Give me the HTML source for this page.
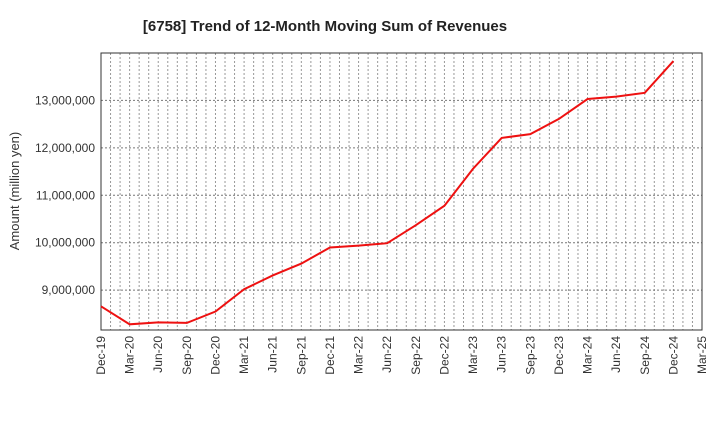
<!DOCTYPE html>
<html><head><meta charset="utf-8"><style>
body{margin:0;background:#fff;font-family:"Liberation Sans",sans-serif}
svg text{font-family:"Liberation Sans",sans-serif;fill:#333}
</style></head><body>
<svg id="c" width="720" height="440">
<text x="325" y="31" text-anchor="middle" font-size="15" font-weight="bold" style="fill:#222">[6758]  Trend of 12-Month Moving Sum of Revenues</text>
<text transform="translate(19,191) rotate(-90)" text-anchor="middle" font-size="13">Amount (million yen)</text>
<g id="grid"></g><g id="ax"></g><g id="series"></g>
</svg>
<script>
const categories=["Dec-19","Mar-20","Jun-20","Sep-20","Dec-20","Mar-21","Jun-21","Sep-21","Dec-21","Mar-22","Jun-22","Sep-22","Dec-22","Mar-23","Jun-23","Sep-23","Dec-23","Mar-24","Jun-24","Sep-24","Dec-24","Mar-25"];
const revenues=[8660000,8280000,8320000,8310000,8550000,9020000,9310000,9560000,9900000,9940000,9990000,10370000,10780000,11560000,12210000,12290000,12610000,13030000,13080000,13160000,13830000];
const yTicks=[9000000,10000000,11000000,12000000,13000000];
const L=101,R=702,T=53,B=330,yMin=8160000,yMax=14000000;
const NS="http://www.w3.org/2000/svg";
const xs=i=>L+(R-L)*i/(categories.length-1);
const ys=v=>B-(v-yMin)/(yMax-yMin)*(B-T);
function mk(t,a,p){const e=document.createElementNS(NS,t);for(const k in a)e.setAttribute(k,a[k]);p.appendChild(e);return e;}
const g=document.getElementById('grid'),ax=document.getElementById('ax'),s=document.getElementById('series');
const months=(categories.length-1)*3;
for(let m=1;m<months;m++){const x=L+(R-L)*m/months;
const l=mk('line',{x1:x,x2:x,y1:T,y2:B,stroke:'#999','stroke-dasharray':'2,2','stroke-width':1},g);

}
yTicks.forEach(v=>{const y=ys(v);
const l=mk('line',{x1:L,x2:R,y1:y,y2:y,stroke:'#777','stroke-dasharray':'2,2','stroke-width':1},g);


const t=mk('text',{x:L-6,y:y+4,'text-anchor':'end','font-size':12},ax);t.textContent=v.toLocaleString('en-US');

});
categories.forEach((c,i)=>{const x=xs(i);
const t=mk('text',{transform:`translate(${x+4},${B+6}) rotate(-90)`,'text-anchor':'end','font-size':12},ax);t.textContent=c;

});
const f=mk('rect',{x:L,y:T,width:R-L,height:B-T,fill:'none',stroke:'#333','stroke-width':1},ax);


const p=mk('polyline',{points:revenues.map((v,i)=>xs(i)+','+ys(v)).join(' '),fill:'none',stroke:'#ee1111','stroke-width':2},s);


</script>
</body></html>
